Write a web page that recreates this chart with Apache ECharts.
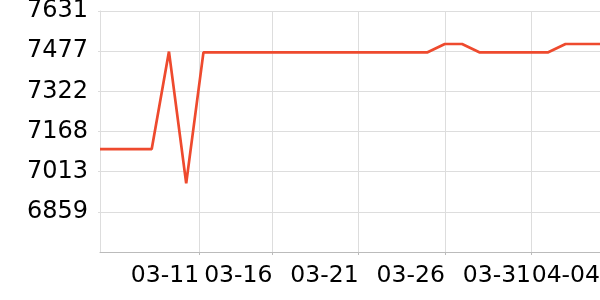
<!DOCTYPE html>
<html>
<head>
<meta charset="utf-8">
<script src="https://cdn.jsdelivr.net/npm/echarts@6/dist/echarts.min.js"></script>
<style>html,body{margin:0;padding:0;background:#fff}#c{width:600px;height:300px}</style>
</head>
<body>
<div id="c"></div>
<script>
var dates = ['2025-03-06','2025-03-07','2025-03-08','2025-03-09','2025-03-10','2025-03-11','2025-03-12','2025-03-13','2025-03-14','2025-03-15','2025-03-16','2025-03-17','2025-03-18','2025-03-19','2025-03-20','2025-03-21','2025-03-22','2025-03-23','2025-03-24','2025-03-25','2025-03-26','2025-03-27','2025-03-28','2025-03-29','2025-03-30','2025-03-31','2025-04-01','2025-04-02','2025-04-03','2025-04-04'];
var values = [7100,7100,7100,7100,7475,6968,7472,7472,7472,7472,7472,7472,7472,7472,7472,7472,7472,7472,7472,7472,7504,7504,7472,7472,7472,7472,7472,7504,7504,7504];
var xTicks = ['2025-03-11T18:00:00Z','2025-03-16T00:00:00Z','2025-03-21T00:00:00Z','2025-03-26T00:00:00Z','2025-03-31T00:00:00Z','2025-04-04T00:00:00Z'];
var xTickLabels = ['03-11','03-16','03-21','03-26','03-31','04-04'];
var yMin = 6704, yMax = 7631, yStep = 154.5;

function ts(s){ return Date.parse(s.length === 10 ? s + 'T00:00:00Z' : s); }
var tickVals = xTicks.map(ts);
var labelMap = {};
tickVals.forEach(function(v,i){ labelMap[v] = xTickLabels[i]; });

var chart = echarts.init(document.getElementById('c'), null, {renderer:'canvas'});
chart.setOption({
  animation: false,
  grid: {left: 100, right: 0, top: 11, bottom: 48, containLabel: false, outerBoundsMode: 'none'},
  xAxis: {
    type: 'value',
    min: ts(dates[0]), max: ts(dates[dates.length-1]),
    axisLine: {show: true, lineStyle: {color: '#bbb', width: 1}},
    axisTick: {show: true, length: 3, lineStyle: {color: '#bbb'}, customValues: tickVals},
    axisLabel: {
      customValues: tickVals,
      showMaxLabel: true, showMinLabel: true, hideOverlap: false,
      align: 'right',
      margin: 12,
      fontSize: 23.5, fontFamily: 'DejaVu Sans', color: '#000',
      formatter: function(v){ return labelMap[v] || ''; }
    },
    splitLine: {show: true, lineStyle: {color: '#ddd', width: 1}}
  },
  yAxis: {
    type: 'value',
    min: yMin, max: yMax, interval: yStep,
    axisLine: {show: true, lineStyle: {color: '#ddd', width: 1}},
    axisTick: {show: true, length: 2, lineStyle: {color: '#ddd'}},
    axisLabel: {
      showMinLabel: false,
      margin: 12,
      fontSize: 24, fontFamily: 'DejaVu Sans', color: '#000',
      formatter: function(v){ return Math.round(v).toString(); }
    },
    splitLine: {show: true, lineStyle: {color: '#ddd', width: 1}}
  },
  series: [{
    type: 'line',
    data: dates.map(function(d,i){ return [ts(d), values[i]]; }),
    showSymbol: false,
    lineStyle: {color: '#ee4a2e', width: 2.7},
    itemStyle: {color: '#ee4a2e'}
  }]
});
</script>
</body>
</html>
